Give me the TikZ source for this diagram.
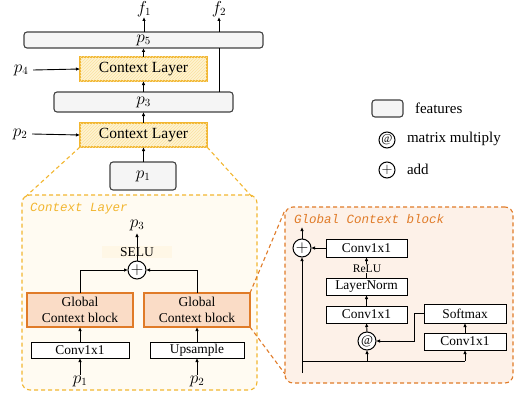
\documentclass[tikz,border=0pt]{standalone}
\usepackage{fontspec}
\setmainfont{Liberation Serif}
\newfontfamily\codefont{Liberation Mono}
\usetikzlibrary{arrows.meta,patterns,calc}
\definecolor{gold}{HTML}{F2B630}
\definecolor{hatchbg}{HTML}{FFF3D2}
\definecolor{hatchln}{HTML}{FAE2A0}
\definecolor{ctxfill}{HTML}{FFFBF2}
\definecolor{orangeb}{HTML}{E07B28}
\definecolor{gcfill}{HTML}{FADCC6}
\definecolor{gcbg}{HTML}{FDF1E8}
\definecolor{selubg}{HTML}{FFF7E6}
\tikzset{
 every node/.style={inner sep=0pt, outer sep=0pt},
 feat/.style={draw=black!75, fill=black!4, rounded corners=3pt, line width=1.1pt, font=\fontsize{16}{18}\selectfont},
 ctxl/.style={draw=gold, line width=1.2pt, fill=hatchbg, postaction={pattern=north east lines, pattern color=hatchln}, font=\fontsize{15.5}{18}\selectfont},
 gcb/.style={draw=orangeb, fill=gcfill, line width=1.1pt, align=center, font=\fontsize{13.5}{16}\selectfont},
 opbox/.style={draw=black, fill=white, line width=1pt, font=\fontsize{13.4}{15}\selectfont},
 opc/.style={circle, draw=black, fill=white, line width=1pt, minimum size=18pt},
 arr/.style={-{Latex[length=4pt,width=3.5pt]}, line width=0.9pt},
 ln/.style={line width=0.9pt},
 lab/.style={font=\fontsize{16}{18}\selectfont},
 dsh/.style={dash pattern=on 4pt off 3pt, line width=1.1pt},
 legtext/.style={anchor=west, font=\fontsize{15}{17}\selectfont},
}
\begin{document}
\begin{tikzpicture}[x=1pt,y=-1pt]
\useasboundingbox (0,0) rectangle (516,396);

% ---------- big dashed boxes ----------
\node[dsh, draw=gold, fill=ctxfill, rounded corners=8pt, minimum width=235pt, minimum height=195pt] (ctxbig) at (139.5,292.5) {};
\node[dsh, draw=orangeb, fill=gcbg, rounded corners=8pt, minimum width=228pt, minimum height=176pt] (gcbig) at (399,295) {};
\node[anchor=west, text=gold, font=\codefont\itshape\fontsize{12.5}{14}\selectfont] (ctxtitle) at (30,209) {Context Layer};
\node[anchor=west, text=orangeb, font=\codefont\itshape\fontsize{12.5}{14}\selectfont] (gctitle) at (294,219) {Global Context block};

% ---------- top pipeline ----------
\node[feat, minimum width=239pt, minimum height=16pt] (p5) at (143.5,40) {$p_5$};
\node[ctxl, minimum width=127pt, minimum height=24pt] (ctxA) at (143.5,69) {Context Layer};
\node[feat, minimum width=179pt, minimum height=20pt] (p3) at (143.5,102) {$p_3$};
\node[ctxl, minimum width=127pt, minimum height=24pt] (ctxB) at (143.5,135) {Context Layer};
\node[feat, minimum width=66pt, minimum height=28pt] (p1) at (143,176) {$p_1$};
\node[lab] (f1) at (144,9) {$f_1$};
\node[lab] (f2) at (219,9) {$f_2$};
\node[lab] (p4) at (21,70) {$p_4$};
\node[lab] (p2) at (20,134) {$p_2$};

\draw[arr] (p5.north -| f1) -- (144,17);
\draw[ln] (p3.north -| f2) -- (p5.south -| f2);
\draw[arr] (p5.north -| f2) -- (219,17);
\draw[arr] (ctxA.north) -- (p5.south);
\draw[arr] (p3.north -| ctxA) -- (ctxA.south);
\draw[arr] (ctxB.north) -- (p3.south -| ctxB);
\draw[arr] (p1.north -| ctxB) -- (ctxB.south);
\draw[arr] ([xshift=5pt]p4.east) -- (ctxA.west);
\draw[arr] ([xshift=5pt]p2.east) -- (ctxB.west);

% zoom lines
\coordinate (zl) at (23,199);
\coordinate (zr) at (254,199);
\draw[dsh, draw=gold] (ctxB.south west) -- (zl);
\draw[dsh, draw=gold] (ctxB.south east) -- (zr);

% ---------- context layer detail ----------
\node[lab] (p3in) at (137,225) {$p_3$};
\node[fill=selubg, minimum width=70pt, minimum height=12pt, font=\fontsize{13.5}{15}\selectfont] (selu) at (137,252) {SELU};
\node[opc, font=\fontsize{16}{16}\selectfont] (addA) at (137,270) {$+$};
\node[gcb, minimum width=106pt, minimum height=34pt] (gcL) at (80,310) {Global\\Context block};
\node[gcb, minimum width=106pt, minimum height=34pt] (gcR) at (197,310) {Global\\Context block};
\node[opbox, minimum width=98pt, minimum height=16pt] (convL) at (80,350) {Conv1x1};
\node[opbox, minimum width=94pt, minimum height=16pt] (upsR) at (197,350) {Upsample};
\node[lab] (p1in) at (80,381) {$p_1$};
\node[lab] (p2in) at (197,381) {$p_2$};

\draw[arr] (80,375) -- (convL.south);
\draw[arr] (197,375) -- (upsR.south);
\draw[arr] (convL.north) -- (gcL.south);
\draw[arr] (upsR.north) -- (gcR.south);
\draw[arr] (gcL.north) |- (addA.west);
\draw[arr] (gcR.north) |- (addA.east);
\draw[arr] (addA.north) -- (137,233);

% zoom lines to GC detail
\coordinate (gzt) at (285,210);
\coordinate (gzb) at (285,374);
\draw[dsh, draw=orangeb] (gcR.north east) -- (gzt);
\draw[dsh, draw=orangeb] (gcR.south east) -- (gzb);

% ---------- GC block detail ----------
\node[opc, font=\fontsize{16}{16}\selectfont] (addG) at (302,248) {$+$};
\coordinate (gcout) at (302,227);
\node[opbox, minimum width=81pt, minimum height=18pt] (convT) at (366.5,248) {Conv1x1};
\node[opbox, minimum width=81pt, minimum height=17pt] (lnorm) at (366.5,286.5) {LayerNorm};
\node[opbox, minimum width=81pt, minimum height=17pt] (convM) at (366.5,314.5) {Conv1x1};
\node[opc, font=\fontsize{13}{13}\selectfont] (mm) at (367,341) {@};
\node[opbox, minimum width=82pt, minimum height=19pt] (soft) at (465,313.5) {Softmax};
\node[opbox, minimum width=82pt, minimum height=17pt] (convR) at (465,341.5) {Conv1x1};
\coordinate (gin) at (302,373);
\coordinate (gbus) at (302,361);
\coordinate (gturn) at (414,313.5);

\draw[arr] (lnorm.north) -- (convT.south);
\node[fill=gcbg, inner xsep=1pt, inner ysep=0.5pt, font=\fontsize{11.6}{13}\selectfont] (relu) at (367,268.5) {ReLU};
\draw[arr] (convM.north) -- (lnorm.south);
\draw[arr] (mm.north) -- (convM.south);
\draw[arr] (convT.west) -- (addG.east);
\draw[arr] (addG.north) -- (gcout);
\draw[arr] (gin) -- (addG.south);
\draw[ln] (gbus) -- (gbus -| convR);
\draw[arr] (gbus -| convR) -- (convR.south);
\draw[arr] (gbus -| mm) -- (mm.south);
\draw[arr] (convR.north) -- (soft.south);
\draw[arr] (soft.west) -- (gturn) |- (mm.east);

% ---------- legend ----------
\node[feat, minimum width=31pt, minimum height=17pt] (legF) at (387.5,108.5) {};
\node[legtext] (legFt) at (415,108) {features};
\node[opc, minimum size=16pt, font=\fontsize{12}{12}\selectfont] (legM) at (387,140) {@};
\node[legtext] (legMt) at (407,139) {matrix multiply};
\node[opc, minimum size=16pt, font=\fontsize{15}{15}\selectfont] (legA) at (387,170) {$+$};
\node[legtext] (legAt) at (407,169) {add};
\end{tikzpicture}
\end{document}
